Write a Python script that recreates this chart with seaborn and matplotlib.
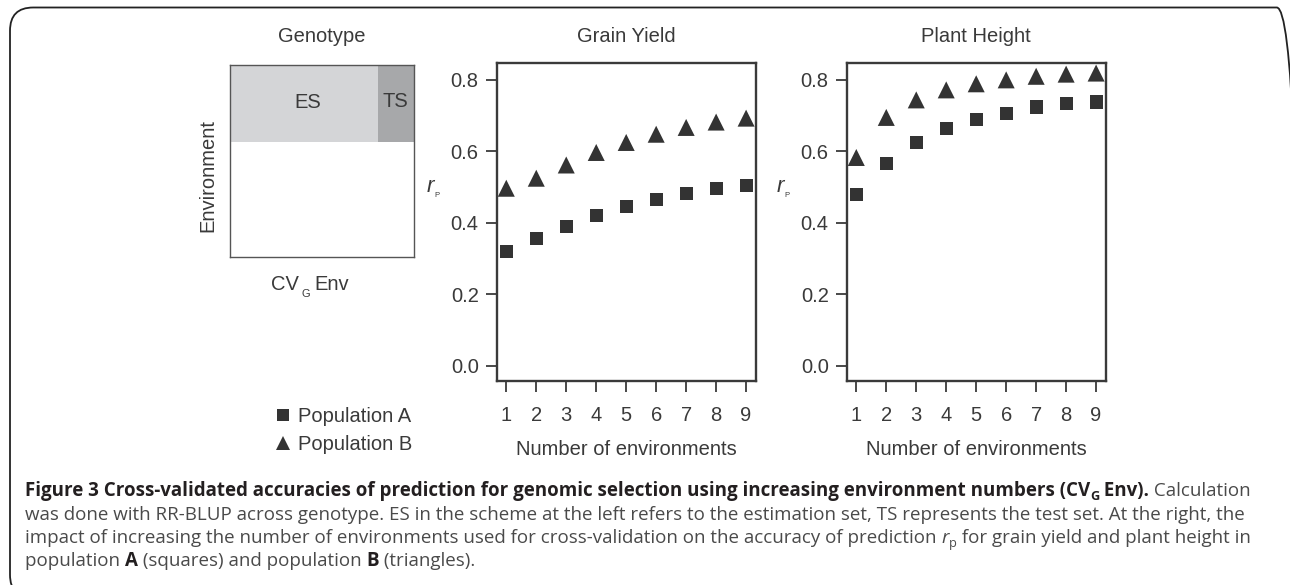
import numpy as np
import pandas as pd
import matplotlib
matplotlib.use("Agg")
import matplotlib.pyplot as plt
import seaborn as sns
from matplotlib.patches import FancyBboxPatch, Rectangle

# ---------------- data ----------------
n_env = [1, 2, 3, 4, 5, 6, 7, 8, 9]
grain_A = [0.320, 0.356, 0.391, 0.421, 0.447, 0.466, 0.483, 0.497, 0.505]
grain_B = [0.497, 0.525, 0.562, 0.597, 0.625, 0.648, 0.667, 0.682, 0.693]
height_A = [0.480, 0.567, 0.626, 0.665, 0.690, 0.707, 0.724, 0.735, 0.738]
height_B = [0.583, 0.695, 0.744, 0.772, 0.789, 0.800, 0.810, 0.816, 0.819]
populations = ["Population A", "Population B"]
panel_titles = ["Grain Yield", "Plant Height"]
y_ticks = [0.0, 0.2, 0.4, 0.6, 0.8]
y_tick_labels = ["0.0", "0.2", "0.4", "0.6", "0.8"]
# scheme: share of environments in estimation rows / genotype share of ES
scheme_es_height = 0.40   # top fraction of environment axis that is shaded
scheme_ts_width = 0.197   # right fraction of genotype axis for TS

sns.set_theme(style="white")
plt.rcParams["font.family"] = ["Liberation Sans", "DejaVu Sans"]

W, H = 1290, 585
fig = plt.figure(figsize=(W / 100, H / 100), dpi=100)
fig.patch.set_facecolor("white")

TXT = "#3a3a3a"
MARK = "#333333"
SPINE = "#3a3a3a"


def fx(px):
    return px / W


def fy(py):
    return 1 - py / H


def make_df(a, b):
    return pd.DataFrame({
        "env": n_env * 2,
        "rp": a + b,
        "Population": [populations[0]] * len(n_env) + [populations[1]] * len(n_env),
    })


panels = [
    (make_df(grain_A, grain_B), 496.7, panel_titles[0]),
    (make_df(height_A, height_B), 846.7, panel_titles[1]),
]
ax_w, ax_top, ax_bot = 259.0, 62.7, 381.0

axes = []
for df, left, title in panels:
    ax = fig.add_axes([fx(left), fy(ax_bot), ax_w / W, (ax_bot - ax_top) / H])
    sns.scatterplot(
        data=df, x="env", y="rp", style="Population", hue="Population",
        size="Population",
        markers={populations[0]: "s", populations[1]: "^"},
        palette={populations[0]: MARK, populations[1]: MARK},
        sizes={populations[0]: 90, populations[1]: 150},
        linewidth=0, ax=ax, legend=True,
    )
    ax.set_xlim(0.68, 9.32)
    ax.set_ylim(-0.042, 0.848)
    ax.set_xticks(n_env)
    ax.set_xticklabels([str(v) for v in n_env])
    ax.set_yticks(y_ticks)
    ax.set_yticklabels(y_tick_labels)
    ax.tick_params(axis="both", which="major", direction="out", length=8,
                   width=1.3, color=SPINE, labelsize=14.5, labelcolor=TXT,
                   bottom=True, left=True)
    ax.tick_params(axis="x", pad=10)
    ax.tick_params(axis="y", pad=5)
    for sp in ax.spines.values():
        sp.set_color(SPINE)
        sp.set_linewidth(1.7)
        sp.set_visible(True)
    ax.set_xlabel("Number of environments", fontsize=14.5, color=TXT, labelpad=11)
    ax.set_ylabel("")
    # title
    fig.text(fx(left + ax_w / 2), fy(36), title, ha="center", va="center",
             fontsize=14.5, color=TXT)
    # r_P label
    fig.text(fx(left - 66.7), fy(187), "r", ha="center", va="center",
             fontsize=16, color=TXT, style="italic")
    fig.text(fx(left - 60), fy(196), "P", ha="center", va="center",
             fontsize=5.5, color=TXT)
    axes.append(ax)

# legend (from the seaborn scatter)
handles, labels = axes[0].get_legend_handles_labels()
for a in axes:
    if a.get_legend() is not None:
        a.get_legend().remove()
leg = fig.legend(handles, labels, loc="center left",
                 bbox_to_anchor=(fx(267), fy(430.5)), frameon=False,
                 fontsize=14.5, handlelength=0.6, handletextpad=0.45,
                 labelspacing=0.45, borderpad=0.0, markerscale=0.85)
for t in leg.get_texts():
    t.set_color(TXT)

# ---------------- scheme panel ----------------
sx0, sx1, sy0, sy1 = 230.3, 414.3, 65.0, 257.3
sax = fig.add_axes([fx(sx0), fy(sy1), (sx1 - sx0) / W, (sy1 - sy0) / H])
sax.set_xlim(0, 1)
sax.set_ylim(0, 1)
sax.add_patch(Rectangle((0, 1 - scheme_es_height), 1 - scheme_ts_width, scheme_es_height,
                        facecolor="#d4d5d7", edgecolor="none"))
sax.add_patch(Rectangle((1 - scheme_ts_width, 1 - scheme_es_height), scheme_ts_width,
                        scheme_es_height, facecolor="#a7a8aa", edgecolor="none"))
sax.text(0.42, 0.805, "ES", ha="center", va="center", fontsize=14.5, color=TXT)
sax.text(0.897, 0.81, "TS", ha="center", va="center", fontsize=14.5, color=TXT)
sax.set_xticks([])
sax.set_yticks([])
for sp in sax.spines.values():
    sp.set_color("#555555")
    sp.set_linewidth(1.0)
    sp.set_visible(True)

fig.text(fx(322), fy(37), "Genotype", ha="center", va="center", fontsize=14.5, color=TXT)
fig.text(fx(208), fy(176), "Environment", ha="center", va="center", rotation=90,
         fontsize=14.5, color=TXT)
fig.text(fx(271.5), fy(285), "CV", ha="left", va="center", fontsize=14.5, color=TXT)
fig.text(fx(305.5), fy(294), "G", ha="center", va="center", fontsize=8, color=TXT)
fig.text(fx(314.5), fy(285), "Env", ha="left", va="center", fontsize=14.5, color=TXT)

# ---------------- outer box ----------------
box = FancyBboxPatch((fx(10), fy(598)), fx(1300 - 10), (598 - 7.5) / H,
                     boxstyle="round,pad=0,rounding_size=0.018",
                     transform=fig.transFigure, facecolor="none",
                     edgecolor="#222222", linewidth=1.3, clip_on=False,
                     mutation_aspect=W / H)
fig.patches.append(box)

# ---------------- caption ----------------
renderer = fig.canvas.get_renderer()
CAP_FS = 13.5
BOLD_C = "#231f20"
REG_C = "#4a4a4a"


def draw_line(pieces, x0, yc):
    x = x0
    for txt, kind in pieces:
        kw = dict(fontsize=CAP_FS, family=["Open Sans", "DejaVu Sans"], va="baseline",
                  ha="left")
        y = yc
        if kind == "b":
            kw.update(weight="bold", color=BOLD_C)
        elif kind == "bsub":
            kw.update(weight="bold", color=BOLD_C, fontsize=CAP_FS * 0.68)
            y = yc + 4
        elif kind == "sub":
            kw.update(color=REG_C, fontsize=CAP_FS * 0.68)
            y = yc + 4
        elif kind == "i":
            kw.update(color=REG_C, style="italic")
        else:
            kw.update(color=REG_C)
        t = fig.text(fx(x), fy(y), txt, **kw)
        bb = t.get_window_extent(renderer=renderer)
        x += bb.width


base = [496, 519.5, 543, 566.5]
draw_line([("Figure 3 Cross-validated accuracies of prediction for genomic selection using increasing environment numbers (CV", "b"),
           ("G", "bsub"), (" Env).", "b"), (" Calculation", "r")], 25, base[0])
draw_line([("was done with RR-BLUP across genotype. ES in the scheme at the left refers to the estimation set, TS represents the test set. At the right, the", "r")], 25, base[1])
draw_line([("impact of increasing the number of environments used for cross-validation on the accuracy of prediction ", "r"),
           ("r", "i"), ("p", "sub"),
           (" for grain yield and plant height in", "r")], 25, base[2])
draw_line([("population ", "r"), ("A", "b"), (" (squares) and population ", "r"), ("B", "b"),
           (" (triangles).", "r")], 25, base[3])

fig.savefig("out.png", dpi=100, facecolor="white")
